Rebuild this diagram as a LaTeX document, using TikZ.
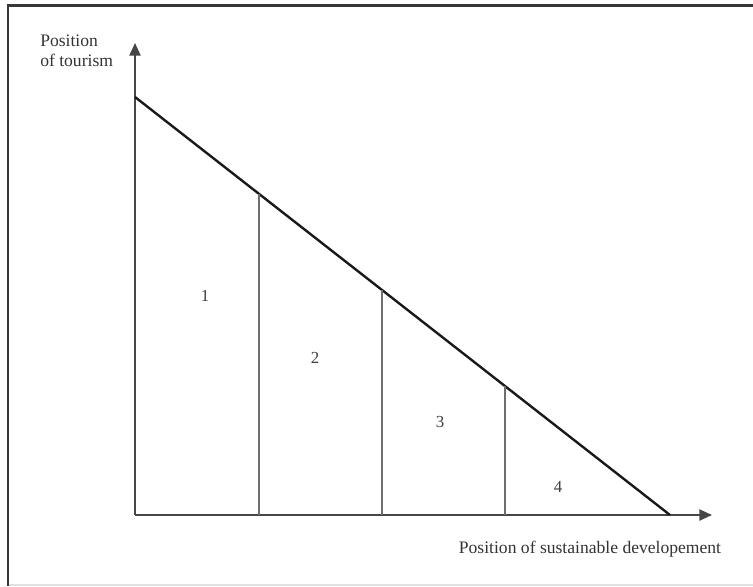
\documentclass[tikz,border=0pt]{standalone}
\usepackage{fontspec}
\setmainfont{Liberation Serif}
\usetikzlibrary{arrows.meta,positioning}
\definecolor{framedark}{RGB}{55,55,55}
\definecolor{framelight}{RGB}{225,225,225}
\definecolor{axisgray}{RGB}{70,70,70}
\definecolor{splitgray}{RGB}{110,110,110}

\begin{document}
\begin{tikzpicture}[x=0.025cm, y=-0.025cm]
\tikzstyle{axis} = [line width=1.1pt, draw=axisgray, -{Triangle[length=9pt,width=8pt]}]
\tikzstyle{slope} = [line width=1.7pt, draw=black!90]
\tikzstyle{split} = [line width=0.8pt, draw=splitgray]
\tikzstyle{axislabel} = [inner sep=0pt, font=\fontsize{12.5}{14.2}\selectfont, text=black!80]
\tikzstyle{zonelabel} = [inner sep=0pt, font=\fontsize{12}{14}\selectfont, text=black!75]

\useasboundingbox (0,0) rectangle (753,586);
% frame
\fill[framedark] (7,4) rectangle (753,6.5);
\fill[framedark] (6.5,4) rectangle (9,586);
\draw[framelight, line width=0.8pt] (9,585) -- (753,585);

% axes
\coordinate (O) at (135,515);
\coordinate (ytop) at (135,43);
\coordinate (xend) at (712,515);
\draw [axis] (O) -- (ytop);
\draw [axis] (O) -- (xend);

% sloping line and its splits
\coordinate (lstart) at (135,97);
\coordinate (lend) at (670,515);
\coordinate (t1) at (259,194);
\coordinate (t2) at (382,290);
\coordinate (t3) at (505,386);
\coordinate (b1) at (259,515);
\coordinate (b2) at (382,515);
\coordinate (b3) at (505,515);
\draw [slope] (lstart) -- (lend);
\draw [split] (b1) -- (t1);
\draw [split] (b2) -- (t2);
\draw [split] (b3) -- (t3);

% texts
\node (ylabel) [axislabel, anchor=west, align=left] at (40,51) {Position\\of tourism};
\node (xlabel) [axislabel] at (590,549) {Position of sustainable developement};
\node (z1) [zonelabel] at (205,296) {1};
\node (z2) [zonelabel] at (315,358) {2};
\node (z3) [zonelabel] at (440,422) {3};
\node (z4) [zonelabel] at (558,487) {4};
\end{tikzpicture}
\end{document}
